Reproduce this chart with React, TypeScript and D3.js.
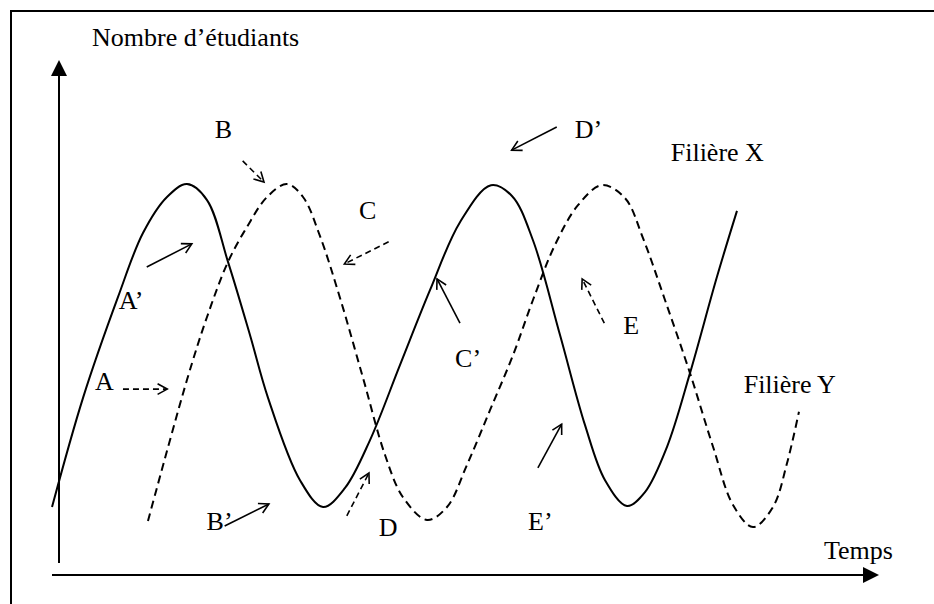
import React from "react";
import * as d3 from "d3";

// Filière X (solid) : [temps, nombre]
const filiereX: [number, number][] = [
  [-0.85, 13.2], [2.93, 34.4], [7.2, 54.0], [10.24, 66.4], [13.17, 73.4], [15.61, 75.9],
  [18.05, 72.8], [20.61, 60.8], [23.29, 46.6], [25.49, 34.4], [29.39, 18.4], [32.2, 13.2],
  [34.88, 16.9], [37.93, 26.2], [41.59, 40.8], [45.24, 55.3], [48.9, 68.5], [52.68, 75.7],
  [55.24, 73.6], [57.8, 65.0], [61.1, 46.6], [64.15, 29.1], [66.59, 18.4], [69.27, 13.4],
  [71.46, 16.1], [74.15, 24.9], [76.95, 39.2], [80.24, 57.9], [82.68, 70.7],
];

// Filière Y (dashed) : [temps, nombre]
const filiereY: [number, number][] = [
  [10.85, 10.5], [15.61, 37.9], [18.05, 50.1], [20.61, 60.8], [22.93, 67.6], [25.37, 73.4],
  [27.8, 75.9], [29.76, 73.4], [31.83, 65.8], [34.27, 53.8], [37.07, 38.3], [39.76, 23.3],
  [41.95, 15.1], [44.88, 10.7], [47.32, 13.2], [49.76, 21.4], [52.56, 32.0], [55.37, 42.7],
  [57.8, 53.4], [60.49, 64.1], [63.29, 71.8], [66.22, 75.7], [69.02, 73.2], [71.22, 65.4],
  [73.9, 53.4], [76.95, 39.2], [79.76, 24.9], [82.2, 13.6], [84.63, 9.3], [87.07, 13.2],
  [88.78, 21.7], [90.24, 31.7],
];

// Annotation arrows: from (t1,v1) to (t2,v2), dashed?
const arrowFrom: [number, number][] = [
  [7.8, 36.1], [10.7, 59.8], [22.4, 80.4], [40.2, 64.7], [60.7, 87.0],
  [48.9, 48.9], [66.5, 48.9], [20.2, 9.5], [35.1, 11.5], [58.4, 20.8],
];
const arrowTo: [number, number][] = [
  [13.2, 36.1], [16.2, 64.3], [25.0, 76.3], [34.8, 60.4], [55.2, 82.5],
  [46.1, 57.5], [63.8, 57.5], [25.6, 13.8], [37.8, 19.8], [61.3, 29.3],
];
const arrowDashed: boolean[] = [true, false, true, true, false, false, true, false, true, false];

// Point labels
const labelTexts: string[] = ["B", "D’", "Filière X", "C", "A’", "A", "C’", "E", "Filière Y", "B’", "D", "E’"];
const labelPos: [number, number][] = [
  [19.0, 84.9], [62.9, 84.9], [74.6, 80.4], [36.6, 69.1], [7.3, 51.7], [4.4, 35.9],
  [48.3, 40.4], [68.8, 46.8], [83.5, 35.3], [18.0, 8.7], [39.0, 7.6], [57.2, 8.7],
];

const yTitle = "Nombre d’étudiants";
const xTitle = "Temps";

const W = 934;
const H = 604;
const FONT = "'Liberation Serif', 'Times New Roman', serif";

export default function App() {
  const x = d3.scaleLinear().domain([0, 100]).range([59, 879]);
  const y = d3.scaleLinear().domain([0, 100]).range([575, 60]);

  const line = d3
    .line<[number, number]>()
    .x((d) => x(d[0]))
    .y((d) => y(d[1]))
    .curve(d3.curveCatmullRom.alpha(0.5));

  const x0 = x(0);
  const y0 = y(0);
  const xTip = x(100);
  const yTip = y(100);

  const head = (x1: number, y1: number, x2: number, y2: number) => {
    const a = Math.atan2(y2 - y1, x2 - x1);
    const L = 11;
    const s = 0.5;
    const p1 = [x2 - L * Math.cos(a - s), y2 - L * Math.sin(a - s)];
    const p2 = [x2 - L * Math.cos(a + s), y2 - L * Math.sin(a + s)];
    return `M${p1[0]},${p1[1]}L${x2},${y2}L${p2[0]},${p2[1]}`;
  };

  return (
    <svg
      width={W}
      height={H}
      style={{ position: "absolute", left: 0, top: 0, background: "#fff" }}
    >
      <rect x={0} y={0} width={W} height={H} fill="#fff" />
      {/* frame */}
      <path d={`M${W + 2},11H11V${H + 2}`} fill="none" stroke="#000" strokeWidth={2} />

      {/* axes */}
      <line x1={x0} y1={563} x2={x0} y2={yTip + 10} stroke="#000" strokeWidth={2} />
      <path d={`M${x0},${yTip}L${x0 - 8},${yTip + 16}L${x0 + 8},${yTip + 16}Z`} fill="#000" />
      <line x1={52} y1={y0} x2={xTip - 10} y2={y0} stroke="#000" strokeWidth={2} />
      <path d={`M${xTip},${y0}L${xTip - 16},${y0 - 8}L${xTip - 16},${y0 + 8}Z`} fill="#000" />

      {/* curves */}
      <path d={line(filiereX) || ""} fill="none" stroke="#000" strokeWidth={2} />
      <path d={line(filiereY) || ""} fill="none" stroke="#000" strokeWidth={2} strokeDasharray="8,5" />

      {/* annotation arrows */}
      {arrowFrom.map((f, i) => {
        const t = arrowTo[i];
        const x1 = x(f[0]), y1 = y(f[1]), x2 = x(t[0]), y2 = y(t[1]);
        return (
          <g key={i} fill="none" stroke="#000" strokeWidth={1.6}>
            <line x1={x1} y1={y1} x2={x2} y2={y2} strokeDasharray={arrowDashed[i] ? "6,4" : undefined} />
            <path d={head(x1, y1, x2, y2)} />
          </g>
        );
      })}

      {/* labels */}
      <g fontFamily={FONT} fontSize={26} fill="#000">
        {labelTexts.map((s, i) => (
          <text key={i} x={x(labelPos[i][0])} y={y(labelPos[i][1])}>
            {s}
          </text>
        ))}
        <text x={92} y={46}>{yTitle}</text>
        <text x={824} y={559}>{xTitle}</text>
      </g>
    </svg>
  );
}
